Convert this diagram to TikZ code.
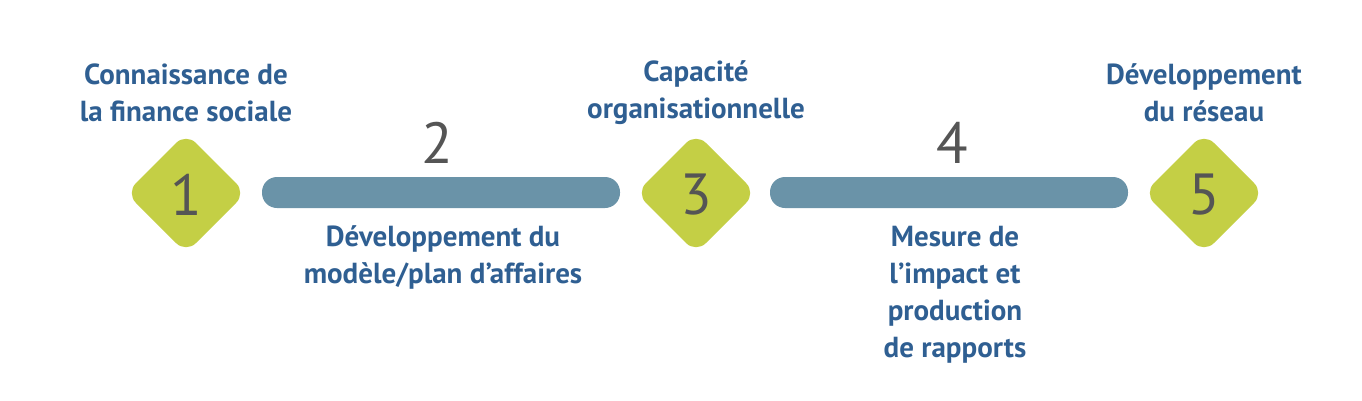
\documentclass[tikz,border=0pt]{standalone}
\usepackage{fontspec}
\setmainfont{PT Sans}
\definecolor{lime}{HTML}{C4CF45}
\definecolor{barc}{HTML}{6A93A8}
\definecolor{lab}{HTML}{2F5F92}
\definecolor{num}{HTML}{555555}
\begin{document}
\begin{tikzpicture}[x=1pt,y=-1pt,
  lbl/.style={text=lab,font=\fontsize{29}{37}\selectfont\bfseries,align=center,inner sep=0},
  numb/.style={text=num,font=\fontsize{58}{58}\selectfont,inner sep=0},
  bar/.style={fill=barc,rounded corners=15}]
\useasboundingbox (0,0) rectangle (1362,400);
\foreach \n/\x in {1/186,3/696,5/1204}{
  \fill[lime,rounded corners=14] (\x-60,193) -- (\x,133) -- (\x+60,193) -- (\x,253) -- cycle;
  \node[numb] (d\n) at (\x,195) {\n};
}
\fill[bar] (262,177) rectangle (620,208);
\fill[bar] (770,177) rectangle (1128,208);
\node[numb] (n2) at (437,143) {2};
\node[numb] (n4) at (952,143) {4};
\node[lbl] (l1) at (186,93) {Connaissance de\\la finance sociale};
\node[lbl] (l3) at (696,93) {Capacité\\organisationnelle};
\node[lbl] (l5) at (1204,93) {Développement\\du réseau};
\node[lbl] (l2) at (443,257) {Développement du\\modèle/plan d’affaires};
\node[lbl] (l4) at (955,295) {Mesure de\\l’impact et\\production\\de rapports};
\end{tikzpicture}
\end{document}
